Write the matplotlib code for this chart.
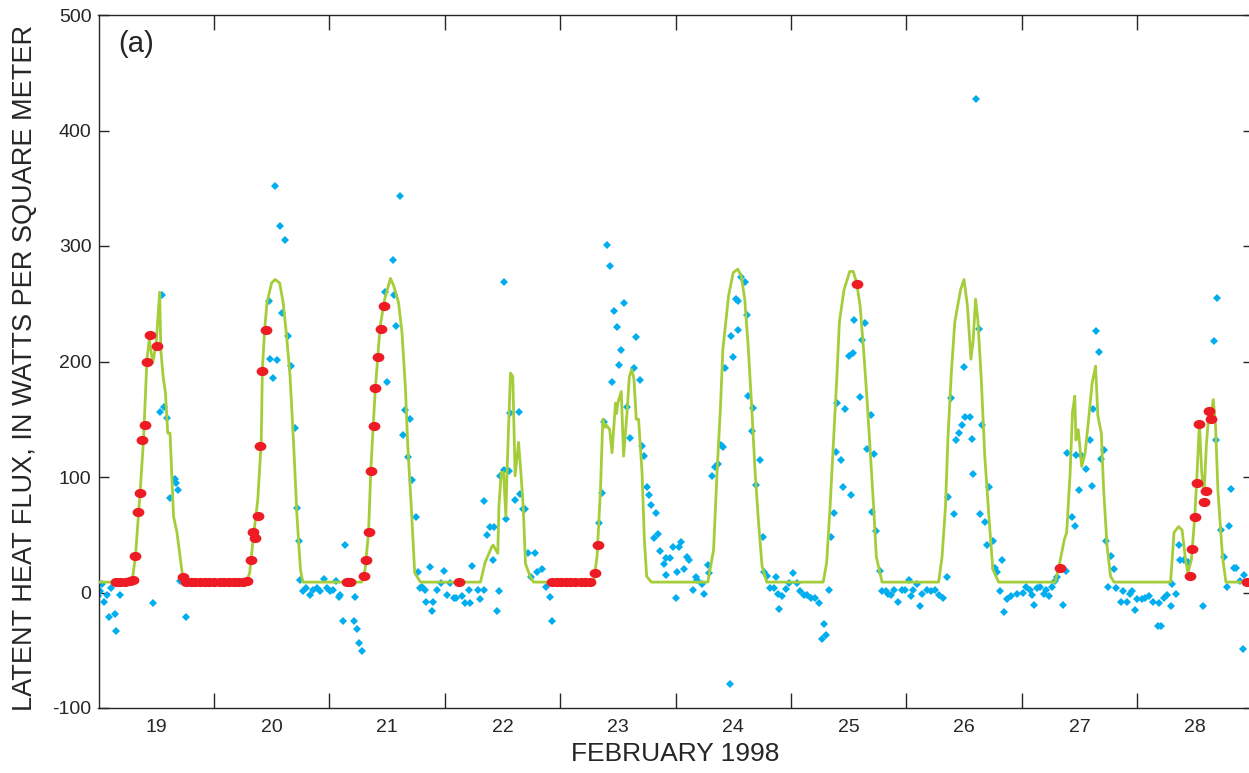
import matplotlib
matplotlib.use("Agg")
import matplotlib.pyplot as plt
import matplotlib.transforms as mtransforms
from matplotlib.path import Path

plt.rcParams['font.family'] = ['Liberation Sans', 'DejaVu Sans']
plt.rcParams['axes.unicode_minus'] = False

# measured latent heat flux (blue diamonds), day of February 1998
blue_day = [
    19.00, 19.01, 19.03, 19.05, 19.07, 19.09, 19.11, 19.14, 19.15, 19.19, 19.47, 19.53, 19.55, 19.57,
    19.59, 19.62, 19.66, 19.67, 19.69, 19.71, 19.76,
    20.48, 20.49, 20.51, 20.53, 20.55, 20.57, 20.59, 20.62, 20.64, 20.67, 20.70, 20.72, 20.74, 20.75,
    20.77, 20.80, 20.83, 20.86, 20.89, 20.92, 20.95, 20.98, 21.01, 21.03, 21.06, 21.08, 21.09, 21.12,
    21.14, 21.21, 21.22, 21.24, 21.26, 21.28,
    21.48, 21.50, 21.55, 21.56, 21.58, 21.61, 21.64, 21.66, 21.68, 21.70, 21.72, 21.75, 21.77, 21.79,
    21.80, 21.83, 21.84, 21.87, 21.89, 21.90, 21.93, 21.97, 21.99, 22.02, 22.05, 22.08, 22.10, 22.15,
    22.18, 22.21, 22.22, 22.24, 22.29,
    22.31, 22.34, 22.34, 22.37, 22.39, 22.42, 22.43, 22.45, 22.47, 22.48, 22.51, 22.51, 22.53, 22.56,
    22.57, 22.61, 22.64, 22.65, 22.68, 22.70, 22.72, 22.75, 22.78, 22.80, 22.84, 22.88, 22.91, 22.93,
    23.34, 23.36, 23.38, 23.41, 23.43, 23.45, 23.47, 23.49, 23.51, 23.53, 23.55, 23.58, 23.61, 23.64,
    23.66, 23.69, 23.71, 23.73, 23.75, 23.77, 23.79, 23.81, 23.83, 23.85, 23.87, 23.90, 23.92, 23.92,
    23.95, 23.98, 24.00, 24.01, 24.03, 24.05, 24.07, 24.10, 24.12, 24.15, 24.18, 24.19, 24.23, 24.25,
    24.28, 24.29,
    24.32, 24.34, 24.37, 24.39, 24.41, 24.43, 24.47, 24.48, 24.50, 24.52, 24.54, 24.54, 24.57, 24.60,
    24.62, 24.63, 24.66, 24.67, 24.70, 24.73, 24.76, 24.77, 24.79, 24.82, 24.85, 24.87, 24.89, 24.90,
    24.92, 24.96, 24.98, 25.02, 25.05, 25.08, 25.11, 25.14, 25.17, 25.21, 25.24, 25.27, 25.29, 25.30,
    25.33,
    25.35, 25.37, 25.39, 25.40, 25.43, 25.45, 25.47, 25.50, 25.52, 25.54, 25.55, 25.60, 25.62, 25.64,
    25.66, 25.69, 25.70, 25.72, 25.74, 25.77, 25.79, 25.82, 25.84, 25.87, 25.89, 25.93, 25.96, 25.99,
    26.02, 26.04, 26.06, 26.09, 26.12, 26.14, 26.18, 26.21, 26.25, 26.28, 26.32,
    26.35, 26.36, 26.39, 26.41, 26.43, 26.46, 26.48, 26.50, 26.51, 26.55, 26.57, 26.58, 26.60, 26.63,
    26.64, 26.66, 26.68, 26.70, 26.72, 26.75, 26.77, 26.79, 26.81, 26.83, 26.85, 26.87, 26.91, 26.96,
    27.01, 27.04, 27.07, 27.09, 27.11, 27.13, 27.16, 27.19, 27.21, 27.24, 27.26, 27.29, 27.31, 27.36,
    27.38, 27.39, 27.44, 27.46, 27.47, 27.50, 27.52, 27.56, 27.59, 27.61, 27.62, 27.64, 27.67, 27.69,
    27.71, 27.73, 27.75, 27.77, 27.80, 27.82, 27.86, 27.88, 27.91, 27.94, 27.96, 27.98, 28.00, 28.04,
    28.07, 28.10, 28.14, 28.18, 28.19, 28.21, 28.23, 28.26, 28.29, 28.30, 28.34,
    28.36, 28.37, 28.41, 28.44, 28.57, 28.67, 28.68, 28.69, 28.73, 28.75, 28.78, 28.80, 28.81, 28.84,
    28.86, 28.89, 28.92, 28.93,
]
blue_flux = [
    -3, 1, 7, -8, -2, -21, 4, -19, -33, -2, -9, 156, 258, 161,
    151, 82, 98, 95, 89, 10, -21,
    252, 202, 186, 352, 201, 317, 242, 305, 222, 196, 142, 73, 45, 11,
    1, 4, -2, 2, 4, 1, 12, 4, 1, 2, 10, -4, -2, -25,
    41, -25, -4, -32, -44, -51,
    260, 182, 288, 258, 231, 343, 136, 158, 117, 150, 97, 65, 18, 4,
    5, 2, -8, 22, -16, -8, 2, 8, 19, -2, 8, -5, -5, -3,
    -9, 2, -9, 23, 2,
    -6, 2, 79, 50, 57, 28, 57, -16, 1, 101, 269, 106, 64, 105,
    155, 80, 156, 85, 72, 72, 34, 13, 34, 18, 20, 5, -4, -25,
    60, 86, 148, 301, 283, 182, 244, 230, 197, 210, 251, 161, 134, 194,
    221, 184, 127, 118, 91, 84, 76, 47, 69, 51, 36, 25, 30, 15,
    30, 39, -5, 18, 39, 44, 20, 31, 28, 2, 13, 11, 7, -1,
    24, 17,
    101, 109, 111, 128, 126, 194, -79, 222, 204, 254, 227, 252, 273, 269,
    240, 170, 140, 160, 93, 115, 48, 18, 14, 4, 4, 13, -1, -14,
    -3, 3, 8, 17, 8, 1, -2, -2, -5, -5, -9, -40, -27, -37,
    2,
    48, 69, 122, 164, 115, 91, 159, 205, 84, 207, 236, 169, 219, 233,
    124, 154, 70, 120, 53, 19, 1, 1, -1, -2, 2, -8, 2, 2,
    11, -3, 2, 7, -12, -1, 2, 1, 2, -2, -5,
    13, 83, 168, 68, 132, 138, 145, 195, 152, 152, 133, 103, 427, 228,
    68, 145, 61, 41, 91, 45, 21, 18, 1, 28, -17, -6, -3, -1,
    0, 5, 2, -2, -11, 4, 5, -1, 2, -3, 5, 10, 13, -11,
    19, 121, 65, 58, 119, 89, 118, 107, 132, 92, 159, 226, 208, 116,
    123, 45, 5, 32, 20, 4, -8, 1, -8, -1, 1, -15, -6, -6,
    -5, -3, -8, -29, -9, -29, -5, -2, -12, 7, -1,
    41, 28, 28, 26, -12, 218, 132, 255, 54, 31, 5, 58, 90, 21,
    21, 10, -49, 15,
]

# modelled flux (green line)
model_day = [
    19.00, 19.29, 19.32, 19.36, 19.39, 19.42, 19.44, 19.47, 19.50, 19.53, 19.54, 19.56, 19.58, 19.60,
    19.62, 19.65, 19.68, 19.73, 19.76,
    20.28, 20.31, 20.34, 20.38, 20.41, 20.42, 20.44, 20.46, 20.50, 20.53, 20.57, 20.60, 20.63, 20.66,
    20.69, 20.72, 20.75, 20.77,
    21.28, 21.31, 21.34, 21.36, 21.38, 21.40, 21.42, 21.44, 21.48, 21.53, 21.56, 21.60, 21.63, 21.66,
    21.68, 21.71, 21.74, 21.79,
    22.31, 22.35, 22.41, 22.42, 22.46, 22.47, 22.49, 22.51, 22.53, 22.54, 22.57, 22.59, 22.61, 22.64,
    22.66, 22.68, 22.70, 22.74, 22.77,
    23.29, 23.32, 23.35, 23.37, 23.39, 23.40, 23.43, 23.45, 23.48, 23.49, 23.50, 23.53, 23.55, 23.58,
    23.60, 23.62, 23.64, 23.66, 23.68, 23.71, 23.73, 23.75, 23.79,
    24.28, 24.33, 24.36, 24.39, 24.41, 24.46, 24.50, 24.54, 24.57, 24.60, 24.63, 24.66, 24.69, 24.72,
    24.75, 24.79,
    25.28, 25.31, 25.34, 25.37, 25.40, 25.42, 25.46, 25.51, 25.54, 25.57, 25.60, 25.63, 25.66, 25.69,
    25.72, 25.74, 25.79,
    26.28, 26.31, 26.34, 26.36, 26.39, 26.42, 26.47, 26.50, 26.53, 26.56, 26.58, 26.60, 26.62, 26.65,
    26.68, 26.72, 26.75, 26.80,
    27.29, 27.33, 27.37, 27.39, 27.42, 27.44, 27.46, 27.47, 27.49, 27.52, 27.55, 27.58, 27.61, 27.64,
    27.66, 27.69, 27.71, 27.74, 27.77, 27.80,
    28.29, 28.32, 28.36, 28.39, 28.42, 28.44, 28.47, 28.50, 28.52, 28.54, 28.56, 28.58, 28.60, 28.62,
    28.64, 28.66, 28.68, 28.70, 28.74, 28.77, 29.00,
]
model_flux = [
    9, 9, 31, 86, 132, 202, 219, 199, 216, 260, 210, 187, 173, 138,
    138, 66, 52, 13, 9,
    9, 17, 46, 80, 130, 193, 228, 251, 268, 271, 268, 251, 222, 187,
    130, 66, 20, 9,
    9, 20, 52, 106, 144, 178, 204, 230, 254, 272, 265, 251, 225, 176,
    127, 75, 17, 9,
    9, 26, 40, 41, 34, 75, 104, 104, 66, 104, 190, 187, 101, 130,
    104, 75, 25, 14, 9,
    9, 31, 89, 150, 143, 145, 141, 121, 164, 155, 164, 174, 118, 156,
    187, 193, 185, 150, 150, 104, 46, 14, 9,
    9, 37, 104, 161, 210, 257, 277, 280, 274, 254, 213, 161, 104, 60,
    23, 9,
    9, 26, 75, 132, 190, 234, 262, 278, 278, 268, 248, 210, 167, 118,
    69, 31, 9,
    9, 31, 75, 132, 190, 234, 262, 271, 248, 202, 219, 254, 236, 184,
    118, 60, 20, 9,
    9, 26, 46, 52, 104, 156, 170, 132, 141, 109, 121, 150, 181, 196,
    153, 138, 89, 40, 14, 9,
    9, 52, 57, 54, 28, 17, 28, 66, 104, 147, 104, 86, 127, 153,
    153, 167, 144, 89, 31, 9, 9,
]

# gap-filled values (red dots)
fill_day = [
    19.15, 19.19, 19.23, 19.27, 19.30, 19.32, 19.34, 19.36, 19.38, 19.40, 19.42, 19.45, 19.51, 19.73,
    19.76, 19.80, 19.84, 19.88, 19.92, 19.96, 20.00, 20.05, 20.09, 20.13, 20.17, 20.21, 20.25, 20.29,
    20.32, 20.34, 20.36, 20.38, 20.40, 20.42, 20.45,
    21.15, 21.18, 21.30, 21.32, 21.34, 21.36, 21.39, 21.40, 21.42, 21.45, 21.47,
    22.12, 22.93, 22.97, 23.01, 23.05, 23.09, 23.13, 23.18, 23.22, 23.26, 23.30, 23.33,
    25.57, 27.33,
    28.46, 28.48, 28.50, 28.52, 28.54, 28.58, 28.60, 28.62, 28.64, 28.95,
]
fill_flux = [
    9, 9, 9, 10, 11, 32, 70, 86, 132, 145, 200, 223, 213, 13,
    9, 9, 9, 9, 9, 9, 9, 9, 9, 9, 9, 9, 9, 10,
    28, 52, 47, 66, 127, 192, 227,
    9, 9, 14, 28, 52, 105, 144, 177, 204, 228, 248,
    9, 9, 9, 9, 9, 9, 9, 9, 9, 9, 17, 41,
    267, 21,
    14, 38, 65, 95, 146, 78, 88, 157, 150, 9,
]

day_labels = ['19', '20', '21', '22', '23', '24', '25', '26', '27', '28']

dark = '#262626'
ellipse = Path.unit_circle().transformed(mtransforms.Affine2D().scale(1.0, 0.78))

fig = plt.figure(figsize=(12.49, 7.73), dpi=100)
ax = fig.add_axes([98.5 / 1249, 65 / 773, 1154 / 1249, 693 / 773])

ax.plot(blue_day, blue_flux, linestyle='none', marker='D', markersize=4.0,
        markeredgewidth=0, color='#00AEEF', zorder=2)
ax.plot(model_day, model_flux, color='#A5CD39', linewidth=2.0, zorder=3)
ax.plot(fill_day, fill_flux, linestyle='none', marker=ellipse, markersize=8.5,
        markeredgewidth=0, color='#ED1C24', zorder=4)

ax.set_xlim(19, 29)
ax.set_ylim(-100, 500)

ax.set_xticks(range(20, 29))
ax.set_xticklabels([])
ax.set_xticks([d + 0.5 for d in range(19, 29)], minor=True)
ax.set_xticklabels(day_labels, minor=True)
ax.tick_params(axis='x', which='major', direction='in', length=11, width=1.0,
               top=True, color=dark)
ax.tick_params(axis='x', which='minor', length=0, pad=8, labelsize=14, labelcolor=dark)

ax.set_yticks(range(-100, 501, 100))
ax.tick_params(axis='y', direction='in', length=7, width=1.0, right=True,
               pad=5, labelsize=14, color=dark, labelcolor=dark)

for s in ax.spines.values():
    s.set_color(dark)
    s.set_linewidth(1.0)

ax.set_xlabel('FEBRUARY 1998', fontsize=19, color=dark)
ax.xaxis.set_label_coords(0.5, -0.0486)
ax.set_ylabel('LATENT HEAT FLUX, IN WATTS PER SQUARE METER', fontsize=19.5, color=dark)
ax.yaxis.set_label_coords(-0.052, 0.491)

ax.text(0.017, 0.978, '(a)', transform=ax.transAxes, fontsize=21, color=dark,
        ha='left', va='top')

fig.savefig('out.png', dpi=100)
